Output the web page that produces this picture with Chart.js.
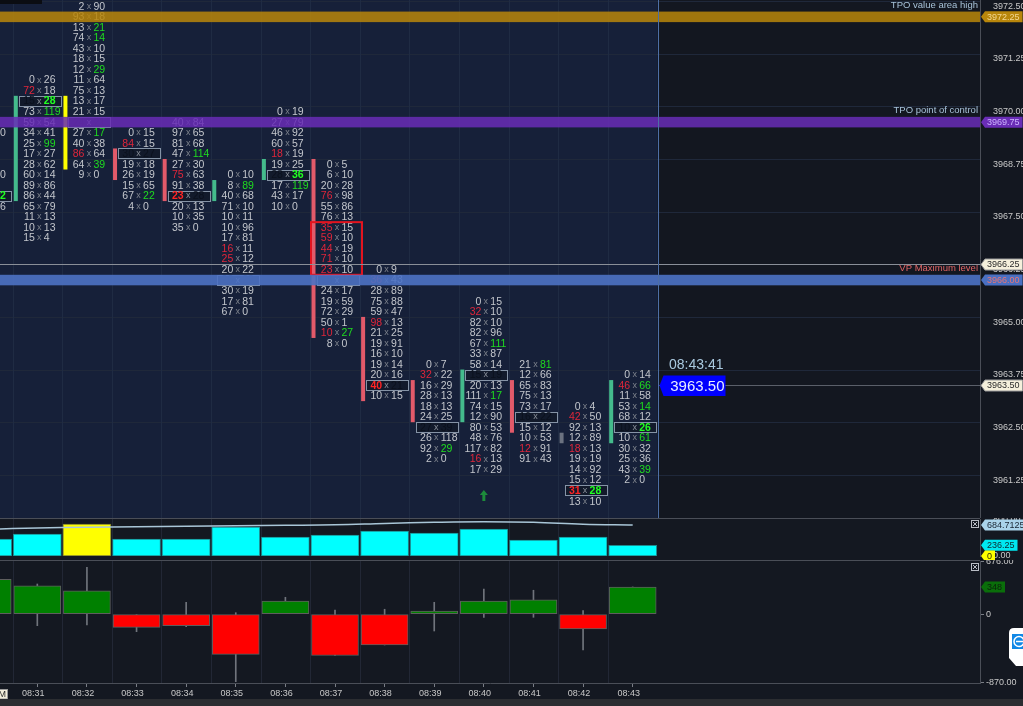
<!DOCTYPE html>
<html>
<head>
<meta charset="utf-8">
<script src="https://cdn.jsdelivr.net/npm/chart.js@4.4.1/dist/chart.umd.min.js"></script>
<style>
  html, body { margin: 0; padding: 0; background: #141821; }
  #wrap { position: relative; width: 1023px; height: 706px; overflow: hidden; background: #141821; }
  canvas { position: absolute; left: 0; }
  #c1 { top: 0; }
  #c2 { top: 518px; }
  #c3 { top: 560px; }
  #strip { position: absolute; left: 0; top: 699px; width: 1023px; height: 7px; background: #2b2d31; }
</style>
</head>
<body>
<div id="wrap">
  <canvas id="c1" width="1023" height="518"></canvas>
  <canvas id="c2" width="1023" height="42"></canvas>
  <canvas id="c3" width="1023" height="146"></canvas>
  <div id="strip"></div>
</div>
<script>
(function () {
  'use strict';

  const FONT = '"Liberation Sans", Arial, sans-serif';

  // one footprint column per minute, 08:30 is cut by the left edge
  const times = ['08:30', '08:31', '08:32', '08:33', '08:34', '08:35', '08:36',
    '08:37', '08:38', '08:39', '08:40', '08:41', '08:42', '08:43'];
  const tickSize = 0.25;

  // cells top row first: [bid, ask, imbalance]  b = bid (red), a = ask (green)
  const fp0830 = [[41, 60], [33, 5], [25, 9], [14, 5], [17, 20], [30, 7], [12, 22, 'a'], [51, 96]];
  const fp0831 = [[0, 26], [72, 18, 'b'], [15, 28, 'a'], [73, 119, 'a'], [59, 54], [34, 41], [25, 99, 'a'], [17, 27],
    [28, 62], [60, 14], [89, 86], [86, 44], [65, 79], [11, 13], [10, 13], [15, 4]];
  const fp0832 = [[2, 90], [93, 18], [13, 21, 'a'], [74, 14, 'a'], [43, 10], [18, 15], [12, 29, 'a'], [11, 64], [75, 13],
    [13, 17], [21, 15], [24, 21], [27, 17, 'a'], [40, 38], [86, 64, 'b'], [64, 39, 'a'], [9, 0]];
  const fp0833 = [[0, 15], [84, 15, 'b'], [30, 27], [19, 18], [26, 19], [15, 65], [67, 22, 'a'], [4, 0]];
  const fp0834 = [[40, 84], [97, 65], [81, 68], [47, 114, 'a'], [27, 30], [75, 63, 'b'], [91, 38], [23, 28, 'b'],
    [20, 13], [10, 35], [35, 0]];
  const fp0835 = [[0, 10], [8, 89, 'a'], [40, 68], [71, 10], [10, 11], [10, 96], [17, 81], [16, 11, 'b'], [25, 12, 'b'],
    [20, 22], [26, 22], [30, 19], [17, 81], [67, 0]];
  const fp0836 = [[0, 19], [27, 79], [46, 92], [60, 57], [18, 19, 'b'], [19, 25], [28, 36, 'a'], [17, 119, 'a'],
    [43, 17], [10, 0]];
  const fp0837 = [[0, 5], [6, 10], [20, 28], [76, 98, 'b'], [55, 86], [76, 13], [35, 15, 'b'], [59, 10, 'b'],
    [44, 19, 'b'], [71, 10, 'b'], [23, 10, 'b'], [18, 16], [24, 17], [19, 59], [72, 29], [50, 1], [10, 27, 'ab'], [8, 0]];
  const fp0838 = [[0, 9], [36, 43, 'b'], [28, 89], [75, 88], [59, 47], [98, 13, 'b'], [21, 25], [19, 91], [16, 10],
    [19, 14], [20, 16], [40, 21, 'b'], [10, 15]];
  const fp0839 = [[0, 7], [32, 22, 'b'], [16, 29], [28, 13], [18, 13], [24, 25], [27, 39], [26, 118], [92, 29, 'a'], [2, 0]];
  const fp0840 = [[0, 15], [32, 10, 'b'], [82, 10], [82, 96], [67, 111, 'a'], [33, 87], [58, 14], [15, 19], [20, 13],
    [111, 17, 'a'], [74, 15], [12, 90], [80, 53], [48, 76], [117, 82], [16, 13, 'b'], [17, 29]];
  const fp0841 = [[21, 81, 'a'], [12, 66], [65, 83], [75, 13], [73, 17], [16, 22], [15, 12], [10, 53], [12, 91, 'b'], [91, 43]];
  const fp0842 = [[0, 4], [42, 50, 'b'], [92, 13], [12, 89], [18, 13, 'b'], [19, 19], [14, 92], [15, 12], [31, 28, 'ab'], [13, 10]];
  const fp0843 = [[0, 14], [46, 66, 'ab'], [11, 58], [53, 14, 'a'], [68, 12], [10, 26, 'a'], [10, 61, 'a'], [30, 32],
    [25, 36], [43, 39, 'a'], [2, 0]];
  const footprint = [fp0830, fp0831, fp0832, fp0833, fp0834, fp0835, fp0836, fp0837, fp0838, fp0839, fp0840, fp0841, fp0842, fp0843];

  const fpTop = [3969.50, 3970.75, 3972.50, 3969.50, 3969.75, 3968.50, 3970.00, 3968.75, 3966.25, 3964.00, 3965.50, 3964.00, 3963.00, 3963.75];
  const fpPoc = [3968.00, 3970.25, 3969.75, 3969.00, 3968.00, 3966.00, 3968.50, 3966.00, 3963.50, 3962.50, 3963.75, 3962.75, 3961.00, 3962.50];

  const candleOpen = [3968.00, 3968.00, 3968.75, 3969.00, 3968.75, 3968.00, 3968.50, 3968.75, 3965.00, 3963.50, 3962.75, 3963.50, 3962.25, 3962.25];
  const candleClose = [3969.25, 3970.25, 3970.25, 3968.50, 3968.00, 3968.25, 3968.75, 3964.75, 3963.25, 3962.75, 3963.75, 3962.50, 3962.25, 3963.50];

  // stacked imbalance zone and signal arrow
  const zoneBar = [7];
  const zoneHigh = [3967.25];
  const zoneLow = [3966.25];
  const signalBar = [10];
  const signalPrice = [3960.875];

  const levelPrice = [3972.25, 3969.75, 3966.00];
  const levelName = ['TPO value area high', 'TPO point of control', 'VP Maximum level'];
  const cursorPrice = 3966.25;
  const lastPrice = 3963.50;
  const lastClock = '08:43:41';

  const priceTicks = [3961.25, 3962.50, 3963.75, 3965.00, 3966.25, 3967.50, 3968.75, 3970.00, 3971.25, 3972.50];

  const volume = [375, 486, 706, 375, 375, 640, 420, 464, 552, 508, 596, 353, 420, 236.25];
  const volumeAvg = [591, 618, 634, 647, 658, 669, 678, 689, 718, 744, 757, 744, 700, 684.7125];
  const volumeTicks = [0, 800];
  const hotBar = 2;

  const deltaClose = [446, 364, 297, -168, -147, -513, 169, -528, -394, 41, 169, 182, -189, 348];
  const deltaHigh = [470, 386, 600, 0, 152, 19, 216, 54, 63, 152, 322, 306, 45, 348];
  const deltaLow = [-30, -147, -138, -224, -160, -863, 0, -528, -394, -215, -40, -40, -458, 0];
  const deltaTicks = [-870, 0, 676];

  // styles
  const levelStyle = [
    { band: 'rgba(184,134,11,0.86)', tag: '#b8860b', tagText: '#f3d893', label: '#a7c2d8' },
    { band: 'rgba(104,44,182,0.86)', tag: '#6a2db6', tagText: '#cdb4ff', label: '#a7c2d8' },
    { band: 'rgba(76,114,196,0.9)', tag: '#4a70c2', tagText: '#e87474', label: '#e06464' }
  ];
  const xMin = 0.248, xMax = 20.0, AXIS_W = 43;

  function fixY(s) { s.width = AXIS_W; s.paddingTop = 0; s.paddingBottom = 0; }

  function hline(ctx, x1, x2, y) {
    ctx.beginPath(); ctx.moveTo(x1, y); ctx.lineTo(x2, y); ctx.stroke();
  }
  function vline(ctx, x, y1, y2) {
    ctx.beginPath(); ctx.moveTo(x, y1); ctx.lineTo(x, y2); ctx.stroke();
  }

  function drawTag(ctx, x, y, text, bg, fg, edge) {
    ctx.font = '9px ' + FONT;
    const w = ctx.measureText(text).width + 5;
    const h = 11;
    ctx.beginPath();
    ctx.moveTo(x, y);
    ctx.lineTo(x + 4, y - h / 2);
    ctx.lineTo(x + 4 + w, y - h / 2);
    ctx.lineTo(x + 4 + w, y + h / 2);
    ctx.lineTo(x + 4, y + h / 2);
    ctx.closePath();
    ctx.fillStyle = bg;
    ctx.fill();
    if (edge) { ctx.strokeStyle = edge; ctx.lineWidth = 1; ctx.stroke(); }
    ctx.fillStyle = fg;
    ctx.textAlign = 'left';
    ctx.textBaseline = 'middle';
    ctx.fillText(text, x + 6, y + 0.5);
  }

  function drawCloseIcon(ctx, x, y) {
    ctx.strokeStyle = '#b8bcc4';
    ctx.lineWidth = 1;
    ctx.strokeRect(x + 0.5, y + 0.5, 7, 7);
    ctx.beginPath();
    ctx.moveTo(x + 2, y + 2); ctx.lineTo(x + 6, y + 6);
    ctx.moveTo(x + 6, y + 2); ctx.lineTo(x + 2, y + 6);
    ctx.stroke();
  }

  function columnGrid(chart, color) {
    const { ctx, chartArea: a, scales: { x } } = chart;
    ctx.strokeStyle = color;
    ctx.lineWidth = 1;
    for (let i = 0; i < times.length - 1; i++) {
      const px = Math.round(x.getPixelForValue(i + 0.5)) + 0.5;
      vline(ctx, px, a.top, a.bottom);
    }
  }

  function drawCell(ctx, xc, y, cell, boxed) {
    const flag = cell[2] || '';
    const bidHot = flag.indexOf('b') >= 0;
    const askHot = flag.indexOf('a') >= 0;
    const dark = '#0b111d';
    ctx.textBaseline = 'middle';
    ctx.textAlign = 'center';
    ctx.font = '9px ' + FONT;
    ctx.fillStyle = boxed ? '#8a909a' : '#7e838c';
    ctx.fillText('x', xc, y);

    ctx.textAlign = 'right';
    ctx.font = (boxed && bidHot ? 'bold ' : '') + '10.5px ' + FONT;
    ctx.fillStyle = bidHot ? (boxed ? '#ff2424' : '#e0263a') : (boxed ? dark : '#c3c6cc');
    ctx.fillText(String(cell[0]), xc - 4.5, y + 0.5);

    ctx.textAlign = 'left';
    ctx.font = (boxed && askHot ? 'bold ' : '') + '10.5px ' + FONT;
    ctx.fillStyle = askHot ? (boxed ? '#22ff22' : '#1fdc1f') : (boxed ? dark : '#c3c6cc');
    ctx.fillText(String(cell[1]), xc + 4.5, y + 0.5);
  }

  function candleColor(i) {
    if (i === hotBar) return '#ffff00';
    if (candleClose[i] > candleOpen[i]) return '#44bb8c';
    if (candleClose[i] < candleOpen[i]) return '#e25a6a';
    return '#6b7280';
  }

  // main footprint panel
  const footprintPlugin = {
    id: 'footprint',
    beforeDraw(chart) {
      const { ctx, chartArea: a, scales: { x, y } } = chart;
      ctx.save();
      ctx.fillStyle = '#131720';
      ctx.fillRect(0, 0, chart.width, chart.height);
      const nowX = x.getPixelForValue(times.length - 0.5);
      ctx.fillStyle = '#162039';
      ctx.fillRect(a.left, a.top, nowX - a.left, a.bottom - a.top);

      ctx.strokeStyle = '#1f283a';
      ctx.lineWidth = 1;
      priceTicks.forEach(v => {
        const py = Math.round(y.getPixelForValue(v + tickSize / 2)) + 0.5;
        hline(ctx, a.left, a.right, py);
      });
      columnGrid(chart, '#1f2b43');

      ctx.fillStyle = '#0b0d12';
      ctx.fillRect(0, 0, 42, 4);
      ctx.restore();
    },
    afterDraw(chart) {
      const { ctx, chartArea: a, scales: { x, y } } = chart;
      const rowH = Math.abs(y.getPixelForValue(lastPrice) - y.getPixelForValue(lastPrice + tickSize));
      ctx.save();
      ctx.setLineDash([]);
      ctx.beginPath();
      ctx.rect(a.left, a.top, a.right - a.left, a.bottom - a.top);
      ctx.clip();

      footprint.forEach((rows, i) => {
        const cx = x.getPixelForValue(i);
        const xc = cx + 2;
        // candle body left of the column
        const hi = Math.max(candleOpen[i], candleClose[i]) + tickSize / 2;
        const lo = Math.min(candleOpen[i], candleClose[i]) - tickSize / 2;
        const yHi = y.getPixelForValue(hi);
        ctx.fillStyle = candleColor(i);
        ctx.fillRect(cx - 23.5, yHi, 4, y.getPixelForValue(lo) - yHi);

        rows.forEach((cell, k) => {
          const p = fpTop[i] - k * tickSize;
          const py = y.getPixelForValue(p);
          const boxed = Math.abs(p - fpPoc[i]) < 1e-6;
          if (boxed) {
            const bx = Math.round(cx - 18.5) + 0.5;
            const by = Math.round(py - rowH / 2) + 0.5;
            ctx.fillStyle = '#121a2b';
            ctx.fillRect(bx, by, 42, 10);
            ctx.strokeStyle = '#8593a6';
            ctx.lineWidth = 1;
            ctx.strokeRect(bx, by, 42, 10);
          }
          drawCell(ctx, xc, py, cell, boxed);
        });
      });

      // stacked imbalance
      zoneBar.forEach((b, k) => {
        const cx = x.getPixelForValue(b);
        const y1 = y.getPixelForValue(zoneHigh[k] + tickSize / 2);
        const y2 = y.getPixelForValue(zoneLow[k] - tickSize / 2);
        ctx.strokeStyle = '#e3141f';
        ctx.lineWidth = 2;
        ctx.strokeRect(cx - 24, y1, 51, y2 - y1);
      });

      // signal arrow
      signalBar.forEach((b, k) => {
        const cx = x.getPixelForValue(b);
        const py = y.getPixelForValue(signalPrice[k]);
        ctx.fillStyle = '#1d8b3b';
        ctx.beginPath();
        ctx.moveTo(cx, py - 6);
        ctx.lineTo(cx + 4, py - 1);
        ctx.lineTo(cx + 1.5, py - 1);
        ctx.lineTo(cx + 1.5, py + 5);
        ctx.lineTo(cx - 1.5, py + 5);
        ctx.lineTo(cx - 1.5, py - 1);
        ctx.lineTo(cx - 4, py - 1);
        ctx.closePath();
        ctx.fill();
      });

      // level bands
      levelPrice.forEach((p, k) => {
        const st = levelStyle[k];
        const y1 = y.getPixelForValue(p + tickSize / 2);
        const y2 = y.getPixelForValue(p - tickSize / 2);
        ctx.fillStyle = st.band;
        ctx.fillRect(a.left, y1, a.right - a.left, y2 - y1);
        ctx.font = '9.5px ' + FONT;
        ctx.fillStyle = st.label;
        ctx.textAlign = 'right';
        ctx.textBaseline = 'middle';
        ctx.fillText(levelName[k], a.right - 2, y1 - 6);
      });

      // crosshair price line
      const cy = Math.round(y.getPixelForValue(cursorPrice + tickSize / 2)) + 0.5;
      ctx.strokeStyle = '#8a8f98';
      ctx.lineWidth = 1;
      hline(ctx, a.left, a.right, cy);

      // current bar edge and last price
      const nowX = Math.round(x.getPixelForValue(times.length - 0.5)) + 0.5;
      const ly = Math.round(y.getPixelForValue(lastPrice)) + 0.5;
      ctx.strokeStyle = '#5a5f69';
      hline(ctx, nowX, a.right, ly);
      ctx.strokeStyle = '#4d6fa6';
      vline(ctx, nowX, a.top, a.bottom);

      ctx.fillStyle = '#0000ff';
      ctx.beginPath();
      ctx.moveTo(nowX + 1, ly);
      ctx.lineTo(nowX + 5, ly - 10);
      ctx.lineTo(nowX + 67, ly - 10);
      ctx.lineTo(nowX + 67, ly + 10.5);
      ctx.lineTo(nowX + 5, ly + 10.5);
      ctx.closePath();
      ctx.fill();
      ctx.font = '15px ' + FONT;
      ctx.fillStyle = '#e8eeff';
      ctx.textAlign = 'right';
      ctx.textBaseline = 'middle';
      ctx.fillText(lastPrice.toFixed(2), nowX + 66, ly + 1);
      ctx.font = '14px ' + FONT;
      ctx.fillStyle = '#a9c9df';
      ctx.fillText(lastClock, nowX + 65, ly - 20);
      ctx.restore();

      // axis tags
      ctx.save();
      const tx = a.right + 1;
      levelPrice.forEach((p, k) => {
        const st = levelStyle[k];
        drawTag(ctx, tx, y.getPixelForValue(p), p.toFixed(2), st.tag, st.tagText);
      });
      drawTag(ctx, tx, cy, cursorPrice.toFixed(2), '#f5f0dc', '#2a2a2a', '#9a9a9a');
      drawTag(ctx, tx, ly, lastPrice.toFixed(2), '#f5f0dc', '#2a2a2a', '#9a9a9a');
      ctx.restore();
    }
  };

  new Chart(document.getElementById('c1'), {
    type: 'scatter',
    data: { datasets: [] },
    options: {
      responsive: false,
      animation: false,
      devicePixelRatio: 1,
      layout: { padding: 0 },
      plugins: { legend: { display: false }, tooltip: { enabled: false } },
      scales: {
        x: { type: 'linear', min: xMin, max: xMax, offset: false, display: false },
        y: {
          type: 'linear',
          position: 'right',
          min: 3960.35,
          max: 3972.65,
          afterFit: fixY,
          afterBuildTicks: s => { s.ticks = priceTicks.map(v => ({ value: v })); },
          ticks: { color: '#c8c8c8', font: { size: 9, family: FONT }, padding: 5, callback: v => Number(v).toFixed(2) },
          grid: { display: false },
          border: { display: true, color: '#4a4e57' }
        }
      }
    },
    plugins: [footprintPlugin]
  });

  // volume panel
  const volumePlugin = {
    id: 'volumePanel',
    beforeDraw(chart) {
      const { ctx } = chart;
      ctx.save();
      ctx.fillStyle = '#141821';
      ctx.fillRect(0, 0, chart.width, chart.height);
      columnGrid(chart, '#222735');
      ctx.restore();
    },
    afterDraw(chart) {
      const { ctx, chartArea: a, scales: { y } } = chart;
      ctx.save();
      ctx.strokeStyle = '#4a4e57';
      ctx.lineWidth = 1;
      hline(ctx, 0, a.right, 0.5);
      drawCloseIcon(ctx, a.right - 9, 2);
      const tx = a.right + 1;
      drawTag(ctx, tx, y.getPixelForValue(volumeAvg[volumeAvg.length - 1]), String(volumeAvg[volumeAvg.length - 1]), '#aad3ea', '#1a2633');
      drawTag(ctx, tx, y.getPixelForValue(volume[volume.length - 1]), volume[volume.length - 1].toFixed(2), '#00e8f0', '#0d2a2e');
      drawTag(ctx, tx, y.getPixelForValue(0), '0', '#ffff00', '#2a2a00');
      ctx.restore();
    }
  };

  new Chart(document.getElementById('c2'), {
    type: 'bar',
    data: {
      datasets: [
        {
          type: 'line',
          data: volumeAvg.map((v, i) => ({ x: i, y: v })),
          borderColor: '#a9c6d8',
          borderWidth: 1.5,
          pointRadius: 0,
          tension: 0.4,
          order: 1
        },
        {
          data: volume.map((v, i) => ({ x: i, y: v })),
          backgroundColor: volume.map((v, i) => i === hotBar ? '#ffff00' : '#00ffff'),
          borderColor: volume.map((v, i) => i === hotBar ? '#7a7a30' : '#1c8a8e'),
          borderWidth: 1,
          borderSkipped: false,
          barThickness: 48,
          grouped: false,
          order: 2
        }
      ]
    },
    options: {
      responsive: false,
      animation: false,
      devicePixelRatio: 1,
      layout: { padding: { top: 1, bottom: 4 } },
      plugins: { legend: { display: false }, tooltip: { enabled: false } },
      scales: {
        x: { type: 'linear', min: xMin, max: xMax, offset: false, display: false },
        y: {
          position: 'right',
          min: 0,
          max: 817,
          afterFit: fixY,
          afterBuildTicks: s => { s.ticks = volumeTicks.map(v => ({ value: v })); },
          ticks: { color: '#c8c8c8', font: { size: 9, family: FONT }, padding: 5, callback: v => Number(v).toFixed(2) },
          grid: { display: false },
          border: { display: true, color: '#4a4e57' }
        }
      }
    },
    plugins: [volumePlugin]
  });

  // delta panel
  const deltaPlugin = {
    id: 'deltaPanel',
    beforeDraw(chart) {
      const { ctx } = chart;
      ctx.save();
      ctx.fillStyle = '#141821';
      ctx.fillRect(0, 0, chart.width, chart.height);
      columnGrid(chart, '#222735');
      ctx.restore();
    },
    afterDraw(chart) {
      const { ctx, chartArea: a, scales: { y } } = chart;
      ctx.save();
      ctx.strokeStyle = '#4a4e57';
      ctx.lineWidth = 1;
      hline(ctx, 0, a.right, 0.5);
      drawCloseIcon(ctx, a.right - 9, 3);
      const last = deltaClose[deltaClose.length - 1];
      drawTag(ctx, a.right + 1, y.getPixelForValue(last), String(last), '#0a6e0a', '#0a220a');

      // crosshair time tag cut by the left edge
      ctx.fillStyle = '#f3eedb';
      ctx.fillRect(-10, a.bottom + 6, 17, 10);
      ctx.strokeStyle = '#9a9a9a';
      ctx.strokeRect(-10, a.bottom + 6.5, 17.5, 9.5);
      ctx.font = '9px ' + FONT;
      ctx.fillStyle = '#2a2a2a';
      ctx.textAlign = 'right';
      ctx.textBaseline = 'middle';
      ctx.fillText('AM', 6, a.bottom + 11.5);

      // remote-control widget on the right edge
      const wy = 68;
      ctx.fillStyle = '#ffffff';
      ctx.beginPath();
      ctx.moveTo(1030, wy);
      ctx.lineTo(1014, wy);
      ctx.quadraticCurveTo(1009, wy, 1009, wy + 5);
      ctx.lineTo(1009, wy + 30);
      ctx.lineTo(1016, wy + 38);
      ctx.lineTo(1030, wy + 38);
      ctx.closePath();
      ctx.fill();
      ctx.fillStyle = '#1188e6';
      ctx.fillRect(1012, wy + 6, 12, 15);
      ctx.strokeStyle = '#ffffff';
      ctx.lineWidth = 1.5;
      ctx.beginPath();
      ctx.arc(1019, wy + 13.5, 5, 0, Math.PI * 2);
      ctx.stroke();
      ctx.beginPath();
      ctx.moveTo(1016, wy + 13.5); ctx.lineTo(1023, wy + 13.5);
      ctx.stroke();
      ctx.restore();
    }
  };

  new Chart(document.getElementById('c3'), {
    type: 'bar',
    data: {
      datasets: [
        {
          data: deltaClose.map((v, i) => ({ x: i, y: [0, v] })),
          backgroundColor: deltaClose.map(v => v >= 0 ? '#008000' : '#ff0000'),
          borderColor: '#5e5e5e',
          borderWidth: 1,
          borderSkipped: false,
          barThickness: 47,
          grouped: false,
          order: 1
        },
        {
          data: deltaLow.map((v, i) => ({ x: i, y: [v, deltaHigh[i]] })),
          backgroundColor: '#70747c',
          barThickness: 1,
          grouped: false,
          order: 2
        }
      ]
    },
    options: {
      responsive: false,
      animation: false,
      devicePixelRatio: 1,
      layout: { padding: { top: 1 } },
      plugins: { legend: { display: false }, tooltip: { enabled: false } },
      scales: {
        x: {
          type: 'linear',
          min: xMin,
          max: xMax,
          offset: false,
          afterFit: s => { s.height = 23; s.paddingLeft = 0; s.paddingRight = 0; },
          afterBuildTicks: s => {
            s.ticks = times.map((t, i) => ({ value: i })).filter(t => t.value >= xMin);
          },
          ticks: {
            color: '#c8c8c8', font: { size: 9, family: FONT }, padding: 1,
            labelOffset: -4, maxRotation: 0, minRotation: 0, autoSkip: false,
            callback: v => times[v]
          },
          grid: { display: true, offset: false, drawOnChartArea: false, tickLength: 4, color: '#7a7e86' },
          border: { display: true, color: '#4a4e57' }
        },
        y: {
          position: 'right',
          min: -880,
          max: 680,
          afterFit: fixY,
          afterBuildTicks: s => { s.ticks = deltaTicks.map(v => ({ value: v })); },
          ticks: {
            color: '#c8c8c8', font: { size: 9, family: FONT }, padding: 2,
            callback: v => (v === 0 ? '0' : Number(v).toFixed(2))
          },
          grid: { display: true, drawOnChartArea: false, tickLength: 4, color: '#7a7e86' },
          border: { display: true, color: '#4a4e57' }
        }
      }
    },
    plugins: [deltaPlugin]
  });
})();
</script>
</body>
</html>
